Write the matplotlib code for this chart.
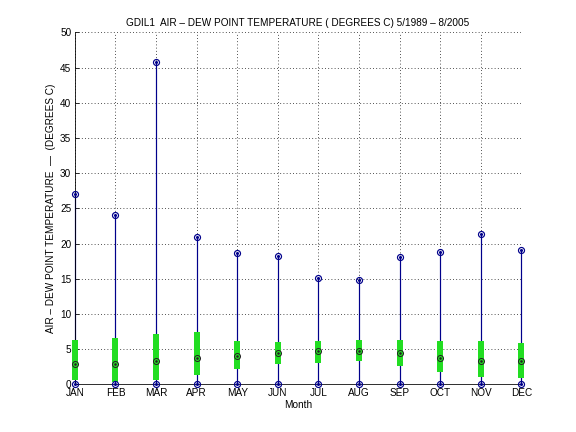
import matplotlib
matplotlib.use("Agg")
import matplotlib.pyplot as plt
import numpy as np

months = ["JAN", "FEB", "MAR", "APR", "MAY", "JUN",
          "JUL", "AUG", "SEP", "OCT", "NOV", "DEC"]

# min / max of air - dew point difference per month
mins = [0, 0, 0, 0, 0, 0, 0, 0, 0, 0, 0, 0]
maxs = [27.1, 24.1, 45.8, 21.0, 18.7, 18.3, 15.1, 14.8, 18.1, 18.8, 21.3, 19.1]
# median
medians = [2.9, 2.9, 3.4, 3.7, 4.1, 4.5, 4.7, 4.8, 4.4, 3.8, 3.4, 3.3]
# green bar (inter-percentile range)
lows = [0.6, 0.4, 0.6, 1.4, 2.2, 2.9, 3.1, 3.3, 2.6, 1.8, 1.1, 0.9]
highs = [6.3, 6.6, 7.2, 7.4, 6.2, 6.1, 6.2, 6.3, 6.3, 6.2, 6.2, 5.9]

x = np.arange(1, 13)

plt.rcParams['font.family'] = ['Liberation Sans', 'DejaVu Sans']
fig = plt.figure(figsize=(8, 6), dpi=72)
ax = fig.add_axes([0.13, 0.11, 0.775, 0.815])

ax.vlines(x, mins, maxs, color='#00008b', lw=1.2, zorder=2, clip_on=False)
ax.vlines(x, lows, highs, color='#22dd22', lw=6, zorder=3, clip_on=False)
for vals in (mins, maxs):
    ax.plot(x, vals, 'o', ms=6, mfc='none', mec='#00008b', mew=1.2,
            zorder=4, clip_on=False)
    ax.plot(x, vals, '.', ms=4, color='#00008b', zorder=4, clip_on=False)
ax.plot(x, medians, 'o', ms=6, mfc='none', mec='#222222', mew=1.0,
        zorder=4, clip_on=False)
ax.plot(x, medians, '.', ms=3, color='#222222', zorder=4, clip_on=False)

ax.set_xlim(1, 12)
ax.set_ylim(0, 50)
ax.set_xticks(x)
ax.set_xticklabels(months)
ax.set_yticks(np.arange(0, 51, 5))
ax.grid(True, color='black', linestyle=(0, (1, 3)), linewidth=0.8)
ax.spines['top'].set_visible(False)
ax.spines['right'].set_visible(False)
ax.tick_params(direction='in', labelsize=10, length=4)
ax.set_xlabel('Month', fontsize=10, labelpad=2)
ax.set_ylabel('AIR – DEW POINT TEMPERATURE  —  (DEGREES C)', fontsize=10)
ax.set_title('GDIL1  AIR – DEW POINT TEMPERATURE ( DEGREES C) 5/1989 – 8/2005',
             fontsize=10)

fig.savefig('out.png', dpi=72)
